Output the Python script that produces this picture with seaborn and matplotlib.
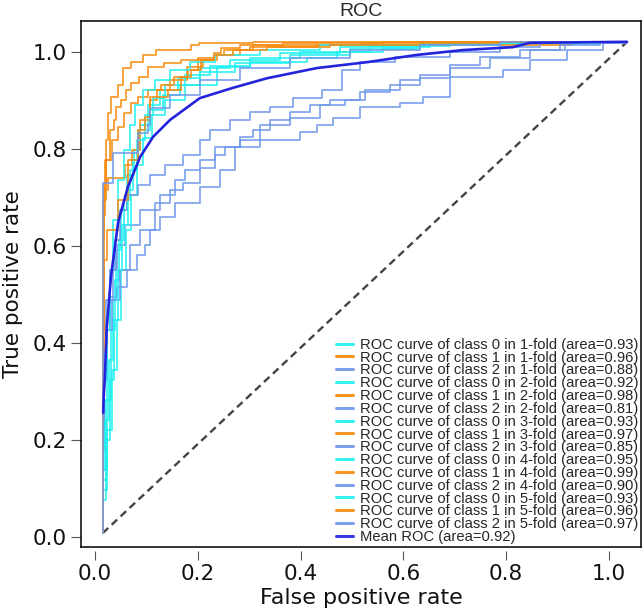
import matplotlib
matplotlib.use("Agg")
import matplotlib.pyplot as plt
import seaborn as sns
import pandas as pd

# ---------------- data ----------------
# class 0 (cyan)
c0_f1_fpr = [0.016,0.021,0.027,0.035,0.041,0.051,0.062,0.076,0.088,0.103,0.126,0.161,0.204,0.263,0.360,0.477,0.652,0.866,1.035]
c0_f1_tpr = [0.008,0.118,0.241,0.365,0.489,0.592,0.674,0.746,0.798,0.849,0.890,0.922,0.946,0.967,0.984,0.998,1.010,1.017,1.021]
c0_f2_fpr = [0.016,0.023,0.033,0.043,0.051,0.060,0.070,0.082,0.093,0.111,0.136,0.175,0.237,0.302,0.412,0.471,0.560,0.626,0.691,0.905,1.035]
c0_f2_tpr = [0.008,0.097,0.221,0.344,0.447,0.551,0.633,0.705,0.767,0.823,0.870,0.901,0.932,0.969,0.979,0.988,1.000,1.008,1.014,1.019,1.021]
c0_f3_fpr = [0.016,0.023,0.031,0.039,0.047,0.056,0.068,0.082,0.097,0.113,0.136,0.175,0.224,0.302,0.399,0.535,0.691,0.983,1.035]
c0_f3_tpr = [0.008,0.138,0.282,0.427,0.530,0.612,0.695,0.757,0.819,0.870,0.905,0.932,0.953,0.971,0.988,1.000,1.012,1.017,1.021]
c0_f4_fpr = [0.016,0.019,0.023,0.029,0.035,0.045,0.056,0.068,0.078,0.093,0.117,0.146,0.185,0.233,0.321,0.438,0.632,0.827,1.035]
c0_f4_tpr = [0.008,0.138,0.282,0.427,0.551,0.654,0.736,0.798,0.849,0.890,0.922,0.942,0.963,0.979,0.994,1.004,1.014,1.019,1.021]
c0_f5_fpr = [0.016,0.021,0.029,0.037,0.045,0.053,0.064,0.074,0.084,0.107,0.132,0.165,0.204,0.272,0.379,0.496,0.632,0.788,0.944,1.035]
c0_f5_tpr = [0.008,0.076,0.200,0.324,0.447,0.551,0.643,0.716,0.777,0.839,0.880,0.911,0.932,0.959,0.977,0.994,1.006,1.014,1.019,1.021]

# class 1 (orange)
c1_f1_fpr = [0.016,0.018,0.025,0.058,0.072,0.088,0.107,0.121,0.146,0.179,0.210,0.237,0.282,0.307,0.516,0.691,1.035]
c1_f1_tpr = [0.008,0.427,0.716,0.740,0.767,0.798,0.860,0.901,0.922,0.942,0.969,0.984,0.994,1.004,1.014,1.019,1.021]
c1_f2_fpr = [0.016,0.019,0.029,0.037,0.041,0.051,0.060,0.070,0.086,0.103,0.134,0.167,0.200,0.232,0.245,0.282,0.366,0.560,1.035]
c1_f2_tpr = [0.008,0.664,0.777,0.839,0.860,0.887,0.901,0.922,0.936,0.948,0.969,0.977,0.984,0.988,0.998,1.008,1.014,1.019,1.021]
c1_f3_fpr = [0.016,0.018,0.021,0.033,0.045,0.056,0.070,0.084,0.103,0.128,0.154,0.181,0.200,0.232,0.251,0.302,0.432,0.928,1.035]
c1_f3_tpr = [0.008,0.612,0.730,0.777,0.819,0.845,0.874,0.895,0.907,0.922,0.932,0.948,0.963,0.984,0.994,1.004,1.010,1.014,1.021]
c1_f4_fpr = [0.016,0.021,0.025,0.031,0.045,0.054,0.070,0.093,0.119,0.187,0.202,0.307,1.035]
c1_f4_tpr = [0.008,0.695,0.819,0.874,0.907,0.932,0.967,0.979,0.994,1.004,1.014,1.019,1.021]
c1_f5_fpr = [0.016,0.018,0.023,0.045,0.064,0.084,0.097,0.107,0.142,0.167,0.187,0.206,0.232,0.268,0.335,0.457,0.632,0.788,1.035]
c1_f5_tpr = [0.008,0.386,0.571,0.633,0.695,0.777,0.839,0.866,0.907,0.922,0.948,0.963,0.984,0.994,1.004,1.010,1.014,1.019,1.021]

# class 2 (cornflower blue)
c2_f1_fpr = [0.016,0.018,0.021,0.029,0.035,0.043,0.058,0.088,0.126,0.156,0.175,0.204,0.233,0.282,0.307,0.340,0.379,0.418,0.457,0.516,0.574,0.632,0.691,0.768,0.846,0.914,1.021,1.035]
c2_f1_tpr = [0.008,0.221,0.344,0.427,0.489,0.551,0.602,0.643,0.674,0.705,0.736,0.757,0.777,0.804,0.825,0.839,0.860,0.876,0.890,0.901,0.918,0.932,0.946,0.967,0.988,1.004,1.021,1.021]
c2_f2_fpr = [0.016,0.018,0.021,0.029,0.043,0.062,0.082,0.097,0.107,0.126,0.156,0.204,0.243,0.272,0.321,0.399,0.432,0.463,0.516,0.593,0.638,0.691,0.794,0.846,0.918,0.988,1.035]
c2_f2_tpr = [0.008,0.241,0.365,0.447,0.495,0.515,0.551,0.581,0.602,0.633,0.660,0.689,0.722,0.757,0.804,0.819,0.835,0.849,0.864,0.887,0.895,0.907,0.948,0.963,0.984,1.004,1.019]
c2_f3_fpr = [0.016,0.018,0.023,0.033,0.049,0.068,0.088,0.117,0.146,0.171,0.204,0.233,0.253,0.282,0.321,0.379,0.438,0.486,0.525,0.593,0.632,0.691,0.749,0.827,0.905,0.983,1.035]
c2_f3_tpr = [0.008,0.179,0.324,0.427,0.489,0.551,0.602,0.633,0.689,0.716,0.730,0.761,0.788,0.804,0.819,0.849,0.864,0.890,0.901,0.922,0.942,0.953,0.973,0.990,1.004,1.014,1.021]
c2_f4_fpr = [0.016,0.018,0.021,0.029,0.039,0.049,0.062,0.084,0.107,0.136,0.171,0.204,0.224,0.263,0.302,0.340,0.385,0.442,0.480,0.516,0.584,0.691,0.788,0.866,0.944,1.035]
c2_f4_tpr = [0.008,0.241,0.386,0.489,0.551,0.612,0.674,0.705,0.726,0.746,0.767,0.788,0.819,0.839,0.860,0.876,0.887,0.905,0.922,0.963,0.979,0.990,1.000,1.010,1.019,1.021]
c2_f5_fpr = [0.016,0.018,0.035,0.037,0.084,0.088,0.103,0.107,0.146,0.204,0.282,0.379,0.496,0.632,0.788,0.905,1.035]
c2_f5_tpr = [0.008,0.730,0.730,0.792,0.792,0.833,0.833,0.849,0.884,0.911,0.942,0.967,0.988,1.004,1.014,1.021,1.021]

# mean ROC
mean_fpr = [0.016,0.017,0.019,0.023,0.031,0.045,0.064,0.088,0.113,0.146,0.204,0.268,0.335,0.432,0.529,0.626,0.716,0.813,0.846,1.035]
mean_tpr = [0.256,0.290,0.324,0.433,0.536,0.649,0.722,0.784,0.825,0.860,0.905,0.926,0.946,0.967,0.979,0.994,1.004,1.010,1.019,1.021]
mean_auc = 0.92

# chance diagonal
diag_fpr = [0.015, 1.035]
diag_tpr = [0.008, 1.021]

classes = [0, 1, 2]
folds = [1, 2, 3, 4, 5]
areas = {
    (0, 1): 0.93, (1, 1): 0.96, (2, 1): 0.88,
    (0, 2): 0.92, (1, 2): 0.98, (2, 2): 0.81,
    (0, 3): 0.93, (1, 3): 0.97, (2, 3): 0.85,
    (0, 4): 0.95, (1, 4): 0.99, (2, 4): 0.90,
    (0, 5): 0.93, (1, 5): 0.96, (2, 5): 0.97,
}
curves = {
    (0, 1): (c0_f1_fpr, c0_f1_tpr), (1, 1): (c1_f1_fpr, c1_f1_tpr), (2, 1): (c2_f1_fpr, c2_f1_tpr),
    (0, 2): (c0_f2_fpr, c0_f2_tpr), (1, 2): (c1_f2_fpr, c1_f2_tpr), (2, 2): (c2_f2_fpr, c2_f2_tpr),
    (0, 3): (c0_f3_fpr, c0_f3_tpr), (1, 3): (c1_f3_fpr, c1_f3_tpr), (2, 3): (c2_f3_fpr, c2_f3_tpr),
    (0, 4): (c0_f4_fpr, c0_f4_tpr), (1, 4): (c1_f4_fpr, c1_f4_tpr), (2, 4): (c2_f4_fpr, c2_f4_tpr),
    (0, 5): (c0_f5_fpr, c0_f5_tpr), (1, 5): (c1_f5_fpr, c1_f5_tpr), (2, 5): (c2_f5_fpr, c2_f5_tpr),
}
class_colors = {0: "#1ef0f0", 1: "#f88a0c", 2: "#6f98ea"}

# ---------------- plot ----------------
sns.set_style("ticks")
plt.rcParams["font.family"] = ["DejaVu Sans"]

fig = plt.figure(figsize=(6.44, 6.11), dpi=100)
ax = fig.add_axes([0.1258, 0.1047, 0.8703, 0.8617])

sns.lineplot(x=diag_fpr, y=diag_tpr, ax=ax, color="#444444", lw=1.7,
             linestyle=(0, (3.2, 2.0)), estimator=None, sort=False)

for f in folds:
    for c in classes:
        fpr, tpr = curves[(c, f)]
        sns.lineplot(x=fpr, y=tpr, ax=ax, color=class_colors[c], lw=1.3, alpha=0.85,
                     drawstyle="steps-pre", estimator=None, sort=False,
                     label=f"ROC curve of class {c} in {f}-fold (area={areas[(c, f)]:.2f})")

sns.lineplot(x=mean_fpr, y=mean_tpr, ax=ax, color="#2424dd", lw=1.9,
             estimator=None, sort=False, label=f"Mean ROC (area={mean_auc:.2f})")

ax.set_xlim(-0.0272, 1.0632)
ax.set_ylim(-0.0206, 1.0649)

for s in ax.spines.values():
    s.set_color("black")
    s.set_linewidth(1.1)

ticks = [0.0, 0.2, 0.4, 0.6, 0.8, 1.0]
ax.set_yticks(ticks)
ax.set_yticklabels([f"{t:.1f}" for t in ticks])
ax.tick_params(axis="y", direction="out", length=7.5, width=0.8, color="#555555",
               labelsize=15.5, pad=2.5, labelcolor="#111111")
ax.tick_params(axis="x", bottom=False, labelbottom=False)

secax = ax.secondary_xaxis(-0.0076)
secax.spines["bottom"].set_visible(False)
secax.set_xticks(ticks)
secax.set_xticklabels([f"{t:.1f}" for t in ticks])
secax.tick_params(axis="x", direction="out", length=6.5, width=0.8, color="#555555",
                  labelsize=15.5, pad=3.0, labelcolor="#111111")
secax.set_xlabel("False positive rate", fontsize=16, labelpad=2.5, color="#111111")

ax.set_ylabel("True positive rate", fontsize=15.5, labelpad=7, color="#111111")
ax.set_title("ROC", fontsize=14, pad=3, family=["Liberation Sans", "DejaVu Sans"])

leg = ax.legend(loc="lower right", bbox_to_anchor=(1.0, 0.0), frameon=False,
                prop={"family": ["Liberation Sans", "DejaVu Sans"], "size": 10.6},
                borderaxespad=0.2, borderpad=0.0, labelspacing=-0.08,
                handlelength=1.15, handletextpad=0.45)
for line in leg.get_lines():
    line.set_linewidth(2.2)
    line.set_alpha(0.9)

fig.savefig("out.png", dpi=100, facecolor="white")
